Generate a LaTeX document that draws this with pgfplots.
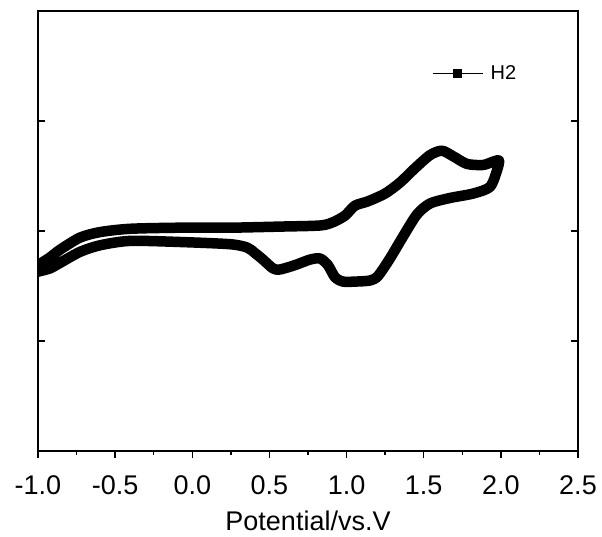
\documentclass[border=0pt]{standalone}
\usepackage{fontspec}
\setmainfont{Liberation Sans}
\usepackage{pgfplots}
\pgfplotsset{compat=1.18}

\begin{document}
\begin{tikzpicture}
\useasboundingbox (-38pt,-86pt) rectangle (564pt,451pt);
\begin{axis}[
    scale only axis,
    width=540pt, height=440pt,
    xmin=-1, xmax=2.5, ymin=0, ymax=4,
    axis line style={line width=1.6pt},
    xtick={-1,-0.5,0,0.5,1,1.5,2,2.5},
    xticklabels={-1.0,-0.5,0.0,0.5,1.0,1.5,2.0,2.5},
    minor x tick num=1,
    xtick pos=bottom, xtick align=outside,
    ytick={1,2,3}, yticklabels={},
    ytick pos=both, ytick align=inside,
    major tick length=7pt, minor tick length=4pt,
    tick style={line width=1.3pt, black},
    tick label style={font=\fontsize{27}{31}\selectfont},
    xticklabel style={anchor=center, yshift=-27pt},
    xlabel={Potential/vs.V},
    label style={font=\fontsize{27}{32}\selectfont},
    xlabel style={at={(axis description cs:0.5,0)}, anchor=center, yshift=-70pt},
    legend style={draw=none, fill=none, at={(0.7296,0.858)}, anchor=west,
        inner sep=0pt, column sep=7pt, font=\fontsize{20}{24}\selectfont,
        nodes={inner sep=0pt, font=\fontsize{20}{24}\selectfont}},
    legend image code/.code={
        \draw[line width=1.4pt, line cap=butt] (0pt,0pt) -- (50pt,0pt);
        \path[fill=black, draw=none] (20.5pt,-4.5pt) rectangle (29.5pt,4.5pt);
    },
    legend cell align=left,
    clip=true,
]
\addplot[black, line width=10.5pt, line join=round, line cap=round, smooth, tension=0.45] coordinates {
    (-1.000,1.69) (-0.922,1.76) (-0.857,1.83) (-0.728,1.94) (-0.598,1.99)
    (-0.404,2.02) (-0.080,2.03) (0.244,2.03) (0.568,2.04) (0.828,2.05)
    (0.912,2.08) (0.990,2.14) (1.054,2.23) (1.139,2.27) (1.249,2.34)
    (1.346,2.44) (1.443,2.57) (1.541,2.69) (1.618,2.73) (1.690,2.68)
    (1.780,2.61) (1.884,2.60) (1.949,2.63) (1.988,2.64)
    (1.975,2.55) (1.929,2.40) (1.819,2.34) (1.670,2.30) (1.541,2.25)
    (1.456,2.15) (1.366,1.95) (1.281,1.75) (1.203,1.59) (1.152,1.55)
    (1.054,1.54) (0.977,1.54) (0.925,1.58) (0.879,1.69) (0.828,1.75)
    (0.763,1.74) (0.666,1.69) (0.568,1.65) (0.523,1.66) (0.458,1.74)
    (0.406,1.80) (0.355,1.85) (0.244,1.88) (-0.080,1.90) (-0.404,1.91)
    (-0.598,1.87) (-0.728,1.81) (-0.857,1.71) (-0.922,1.66) (-1.000,1.63)
};
\addlegendentry{H2}
\end{axis}
\end{tikzpicture}
\end{document}
